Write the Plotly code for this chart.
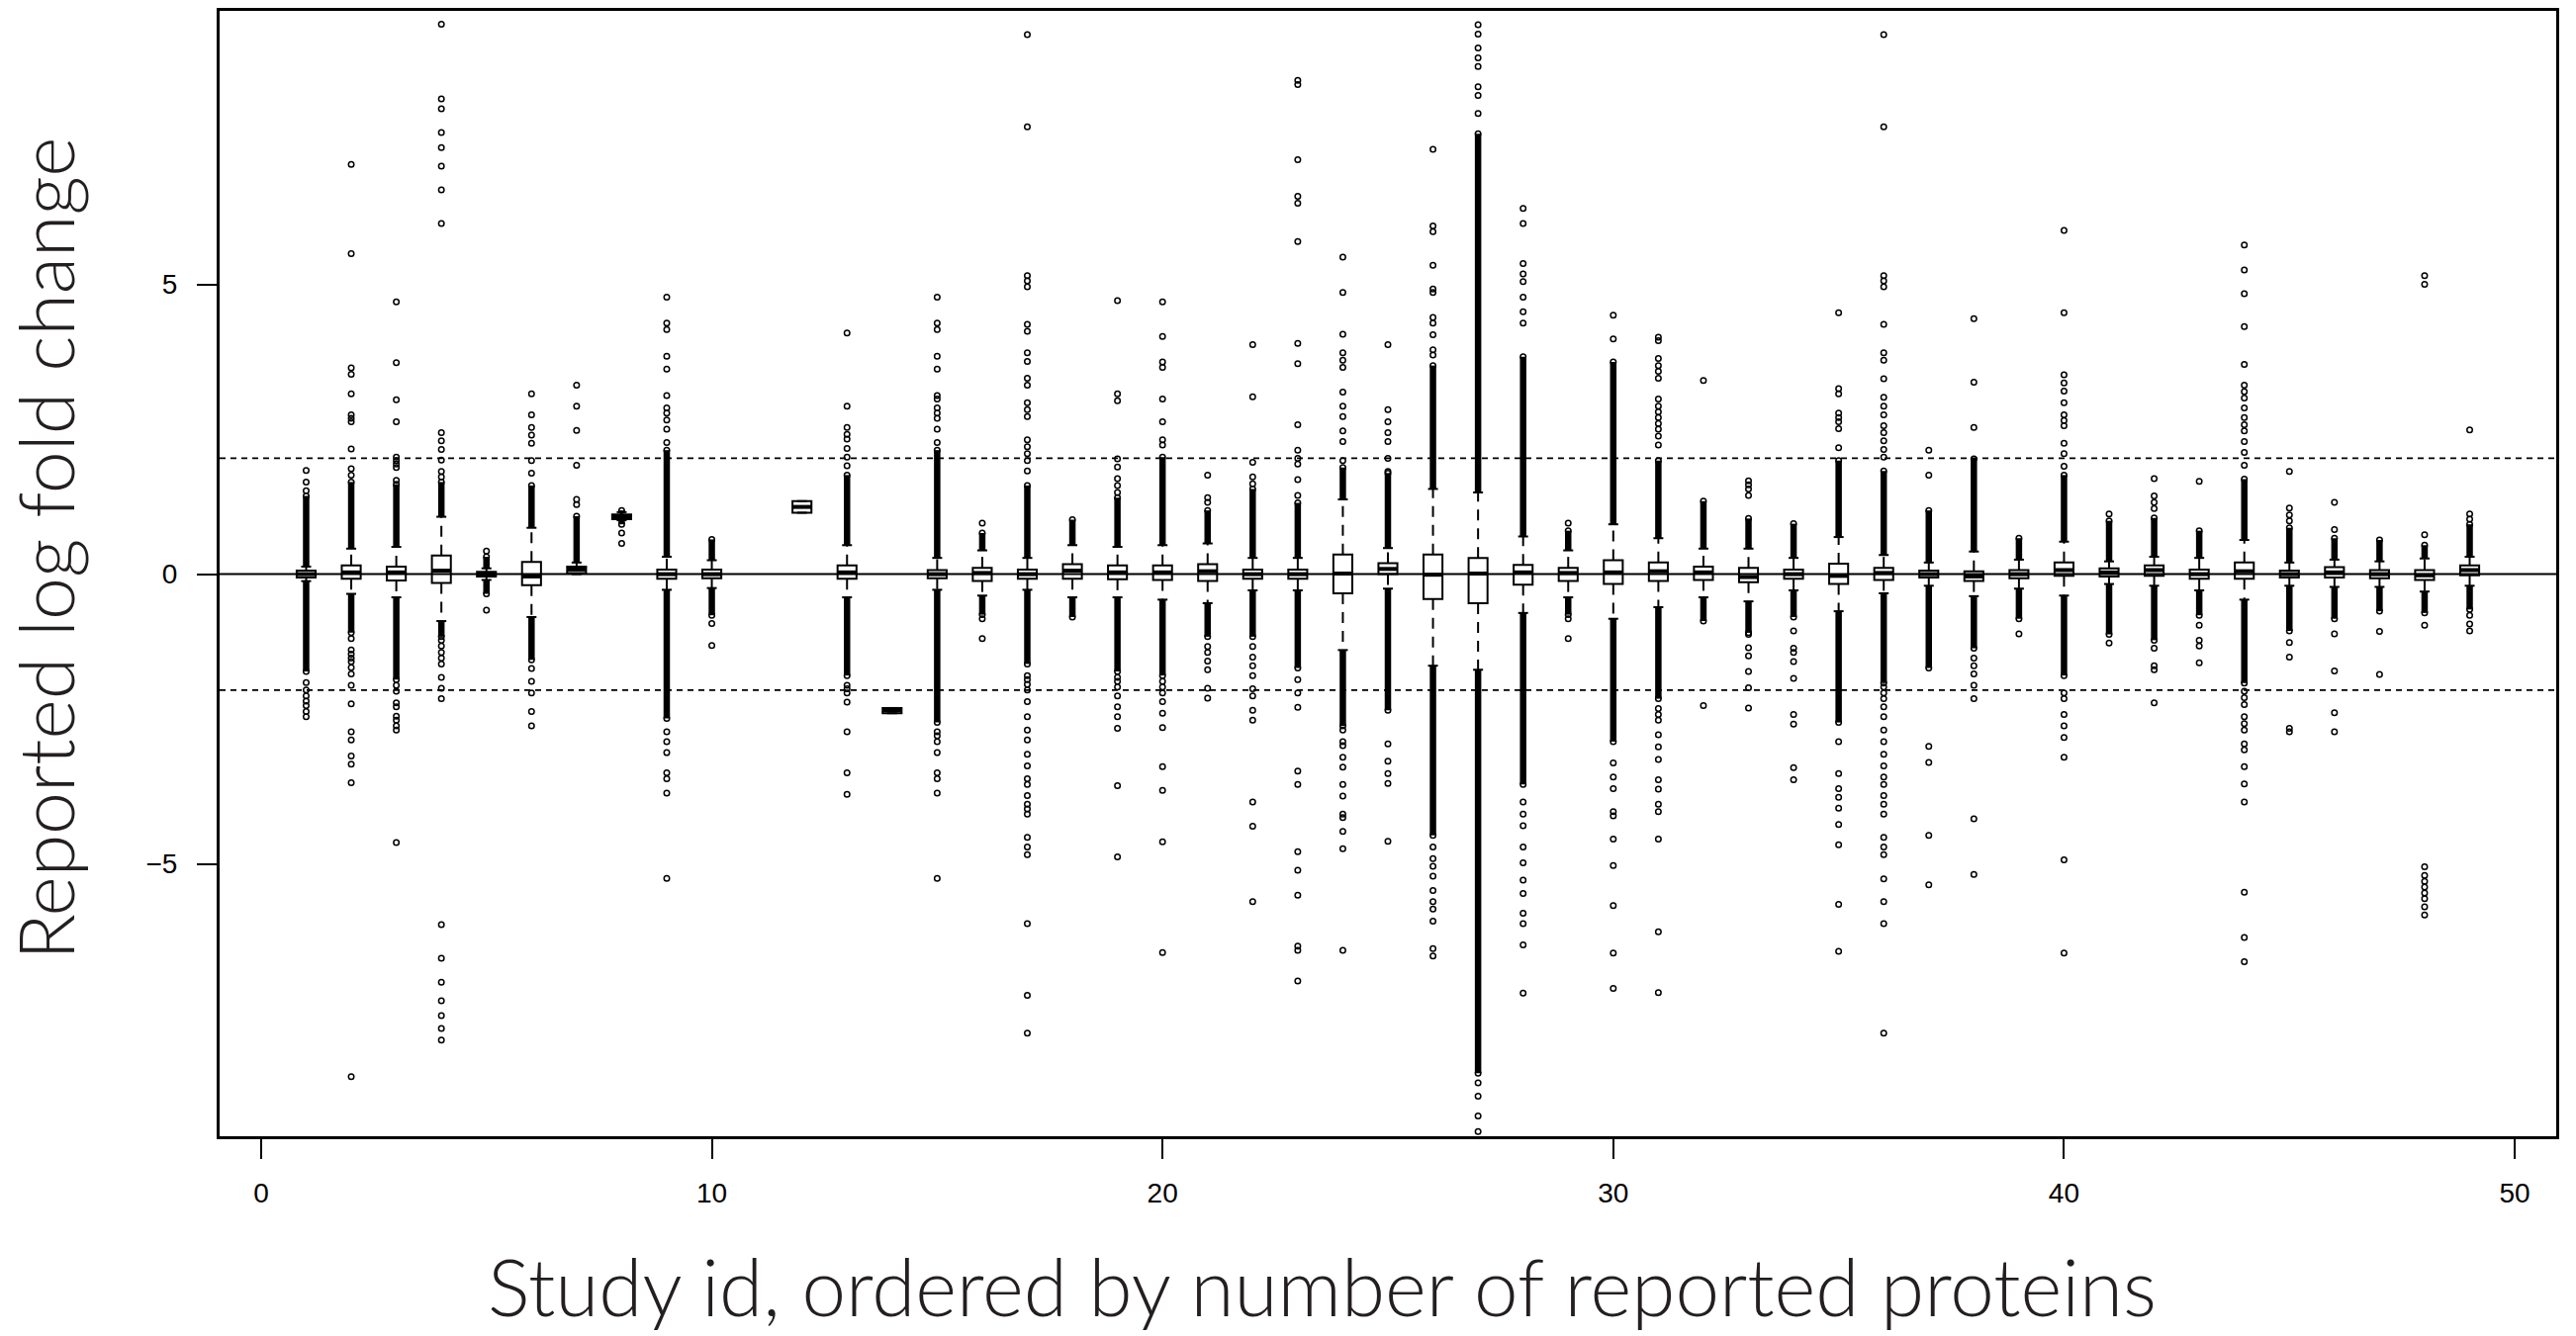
import plotly.graph_objects as go

studies = [1,2,3,4,5,6,7,8,9,10,12,13,14,15,16,17,18,19,20,21,22,23,24,25,26,27,28,29,30,
           31,32,33,34,35,36,37,38,39,40,41,42,43,44,45,46,47,48,49]

q1 = [-0.06,-0.08,-0.11,-0.15,-0.04,-0.19,0.02,0.95,-0.08,-0.07,1.06,-0.08,-2.40,-0.07,-0.12,-0.08,
      -0.08,-0.09,-0.10,-0.12,-0.08,-0.08,-0.33,0.00,-0.43,-0.50,-0.18,-0.12,-0.17,-0.12,-0.10,-0.14,
      -0.08,-0.17,-0.10,-0.06,-0.12,-0.07,-0.03,-0.04,-0.03,-0.08,-0.08,-0.06,-0.06,-0.07,-0.10,-0.02]
med = [0.0,0.03,0.03,0.06,0.0,-0.04,0.08,0.99,0.0,0.0,1.16,0.03,-2.35,0.0,0.02,0.0,
       0.06,0.03,0.03,0.05,0.0,0.0,0.01,0.09,-0.01,0.01,0.03,0.02,0.03,0.05,0.03,-0.05,
       0.0,-0.03,0.02,0.0,-0.04,0.0,0.07,0.03,0.07,0.0,0.05,0.0,0.03,0.0,-0.02,0.07]
q3 = [0.06,0.15,0.13,0.32,0.04,0.21,0.13,1.03,0.08,0.08,1.26,0.15,-2.31,0.07,0.11,0.08,
      0.17,0.15,0.15,0.17,0.08,0.08,0.34,0.19,0.34,0.28,0.16,0.11,0.24,0.20,0.13,0.11,
      0.08,0.18,0.11,0.06,0.05,0.07,0.20,0.10,0.15,0.08,0.20,0.06,0.12,0.07,0.07,0.15]
whisker_lo = [-0.12,-0.34,-0.40,-0.81,-0.10,-0.74,0.00,0.93,-0.27,-0.24,1.06,-0.40,-2.40,-0.27,-0.37,-0.27,
              -0.40,-0.40,-0.44,-0.50,-0.28,-0.28,-1.31,-0.25,-1.58,-1.65,-0.67,-0.40,-0.77,-0.57,-0.40,-0.47,
              -0.28,-0.64,-0.33,-0.20,-0.38,-0.25,-0.37,-0.17,-0.20,-0.28,-0.44,-0.20,-0.22,-0.22,-0.30,-0.20]
whisker_hi = [0.13,0.44,0.47,0.99,0.10,0.80,0.20,1.07,0.30,0.24,1.26,0.50,-2.31,0.28,0.41,0.28,
              0.50,0.47,0.50,0.53,0.28,0.28,1.29,0.45,1.47,1.41,0.65,0.41,0.86,0.62,0.44,0.44,
              0.28,0.64,0.33,0.20,0.39,0.25,0.56,0.22,0.30,0.28,0.59,0.20,0.25,0.22,0.27,0.30]
# extent of the dense (overlapping) outlier runs beyond the whiskers
dense_lo = [-1.68,-1.01,-1.82,-1.08,-0.34,-1.48,0.00,0.86,-2.49,-0.71,1.06,-1.75,-2.40,-2.56,-0.70,-1.55,
            -0.74,-1.68,-1.75,-1.08,-1.08,-1.62,-2.62,-2.35,-4.51,-8.61,-3.63,-0.70,-2.89,-2.15,-0.81,-1.01,
            -0.74,-2.56,-1.88,-1.62,-1.28,-0.77,-1.75,-1.04,-1.14,-0.71,-1.88,-0.98,-0.77,-0.64,-0.67,-0.61]
dense_hi = [1.35,1.59,1.55,1.59,0.30,1.53,1.00,1.10,2.14,0.60,1.26,1.71,-2.31,2.14,0.71,1.53,
            0.94,1.32,2.02,1.10,1.47,1.23,1.84,1.74,3.60,7.60,3.75,0.75,3.66,1.96,1.26,0.96,
            0.87,1.96,1.78,1.10,1.99,0.62,1.71,0.92,0.97,0.75,1.64,0.80,0.62,0.59,0.50,0.86]
# separate (isolated) outliers
outliers = [
    [1.44,1.59,1.79,-1.87,-2.0,-2.1,-2.19,-2.27,-2.37,-2.46],
    [7.07,5.53,3.56,3.45,3.11,2.75,2.69,2.63,2.16,1.82,1.71,-1.11,-1.31,-1.38,-1.45,-1.51,-1.61,-1.72,-1.92,-2.24,-2.72,-2.86,-3.14,-3.28,-3.6,-8.67],
    [4.7,3.65,3.01,2.63,2.02,1.96,1.9,1.84,1.62,-1.92,-2.02,-2.22,-2.29,-2.45,-2.52,-2.62,-2.69,-4.63],
    [9.49,8.2,8.03,7.62,7.36,7.04,6.63,6.05,2.44,2.3,2.15,1.97,1.77,1.68,-1.14,-1.24,-1.35,-1.45,-1.55,-1.78,-1.97,-2.15,-6.05,-6.63,-7.04,-7.36,-7.62,-7.84,-8.04],
    [0.4,-0.62],
    [3.11,2.75,2.53,2.4,2.26,1.96,1.74,-1.63,-1.85,-2.05,-2.37,-2.62],
    [1.2,1.29,1.88,2.48,2.9,3.26],
    [0.71,0.53],
    [4.78,4.33,4.22,3.76,3.54,3.08,2.87,2.78,2.66,2.5,2.27,-2.72,-2.89,-3.08,-3.43,-3.53,-3.78,-5.25],
    [-0.85,-1.23],
    [],
    [4.16,2.9,2.53,2.41,2.33,2.17,2.02,1.87,-1.92,-1.98,-2.05,-2.21,-2.72,-3.43,-3.8],
    [],
    [4.78,4.33,4.22,3.76,3.54,3.08,3.02,2.87,2.78,2.69,2.5,2.27,-2.72,-2.79,-2.89,-3.08,-3.43,-3.53,-3.78,-5.25],
    [0.88,-0.77,-1.11],
    [9.31,7.72,5.15,5.06,4.96,4.31,4.19,3.82,3.67,3.38,3.26,2.96,2.84,2.72,2.32,2.2,2.08,1.96,1.78,-1.75,-1.82,-1.9,-2.0,-2.2,-2.46,-2.69,-2.86,-3.11,-3.31,-3.53,-3.63,-3.82,-3.97,-4.05,-4.14,-4.54,-4.71,-4.84,-6.03,-7.27,-7.92],
    [],
    [4.72,3.11,2.99,1.99,1.85,1.65,1.53,1.41,-1.78,-1.85,-1.95,-2.1,-2.29,-2.46,-2.66,-3.65,-4.88],
    [4.7,4.1,3.66,3.57,3.02,2.63,2.32,2.23,-1.85,-1.95,-2.05,-2.2,-2.4,-2.65,-3.32,-3.73,-4.62,-6.53],
    [1.71,1.32,1.24,-1.25,-1.35,-1.5,-1.65,-1.97,-2.14],
    [3.96,3.06,1.93,1.68,1.56,-1.25,-1.43,-1.58,-1.75,-1.98,-2.1,-2.35,-2.52,-3.93,-4.35,-5.65],
    [8.52,8.45,7.15,6.52,6.4,5.74,3.98,3.63,2.58,2.14,2.0,1.9,1.63,1.36,-1.82,-2.05,-2.3,-3.4,-3.63,-4.79,-5.11,-5.54,-6.42,-6.49,-7.02],
    [5.47,4.86,4.14,3.82,3.69,3.57,3.14,2.9,2.72,2.47,2.29,1.96,-2.69,-2.89,-2.96,-3.16,-3.33,-3.63,-3.83,-4.14,-4.2,-4.44,-4.74,-6.49],
    [3.96,2.84,2.63,2.44,2.29,2.0,1.77,-2.93,-3.23,-3.44,-3.61,-4.61],
    [7.33,6.01,5.91,5.33,4.92,4.86,4.43,4.33,4.13,3.87,3.78,-4.71,-4.91,-5.04,-5.21,-5.46,-5.65,-5.78,-5.99,-6.46,-6.59],
    [9.48,9.32,9.08,8.91,8.76,8.41,8.26,7.95,-8.78,-9.01,-9.35,-9.62],
    [6.31,6.05,5.36,5.18,5.05,4.78,4.53,4.33,-3.93,-4.14,-4.34,-4.71,-4.98,-5.28,-5.51,-5.85,-6.03,-6.4,-7.23],
    [0.88,-0.77,-1.11],
    [4.47,4.06,-3.26,-3.5,-3.7,-4.1,-4.17,-4.57,-5.03,-5.72,-6.54,-7.15],
    [4.09,4.03,3.72,3.6,3.5,3.38,3.02,2.9,2.8,2.7,2.6,2.5,2.38,2.23,-2.32,-2.42,-2.52,-2.77,-2.98,-3.2,-3.55,-3.71,-3.97,-4.1,-4.57,-6.17,-7.22],
    [3.34,-2.27],
    [1.61,1.54,1.47,1.36,-1.04,-1.27,-1.41,-1.68,-1.96,-2.31],
    [-0.98,-1.28,-1.35,-1.51,-1.8,-2.42,-2.59,-3.34,-3.55],
    [4.51,3.2,3.11,2.78,2.7,2.63,2.51,2.18,-2.89,-3.44,-3.7,-3.85,-4.04,-4.32,-4.67,-5.7,-6.51],
    [9.31,7.72,5.15,5.06,4.96,4.31,3.82,3.69,3.37,3.05,2.9,2.75,2.56,2.44,2.3,2.15,2.02,-1.95,-2.05,-2.15,-2.29,-2.46,-2.69,-2.89,-3.11,-3.31,-3.5,-3.63,-3.82,-3.97,-4.14,-4.54,-4.71,-4.84,-5.26,-5.65,-6.03,-7.92],
    [2.14,1.71,-2.97,-3.25,-4.51,-5.36],
    [4.41,3.31,2.53,-1.45,-1.58,-1.72,-1.92,-2.15,-4.22,-5.18],
    [-1.03],
    [5.93,4.51,3.44,3.3,3.16,2.96,2.75,2.65,2.56,2.26,2.08,1.86,-2.05,-2.15,-2.42,-2.62,-2.82,-3.16,-4.93,-6.54],
    [1.04,-1.19],
    [1.65,1.35,1.24,1.13,-1.28,-1.58,-1.65,-2.22],
    [1.6,-0.88,-1.14,-1.24,-1.53],
    [5.68,5.25,4.84,4.27,3.62,3.26,3.15,3.04,2.87,2.7,2.58,2.47,2.29,2.1,1.88,-2.02,-2.13,-2.25,-2.46,-2.58,-2.69,-2.93,-3.03,-3.32,-3.62,-3.93,-5.49,-6.27,-6.69],
    [1.77,1.14,1.02,0.92,-1.18,-1.43,-2.66,-2.72],
    [1.24,0.77,-1.03,-1.67,-2.39,-2.72],
    [-0.99,-1.73],
    [5.15,5.0,0.68,-0.88,-5.05,-5.2,-5.3,-5.4,-5.5,-5.6,-5.74,-5.88],
    [2.49,1.04,0.95,-0.71,-0.86,-0.98],
]

x_ticks = [0, 10, 20, 30, 40, 50]
y_ticks = [-5, 0, 5]
ref_solid = [0]
ref_dashed = [-2, 2]

BOX_W = 0.42
STAPLE_HALF = 0.11
INK = "#000000"

wx, wy, sx, sy, dx, dy, mx, my, ox, oy = [], [], [], [], [], [], [], [], [], []
for i, k in enumerate(studies):
    # whiskers
    for a, b in ((q3[i], whisker_hi[i]), (q1[i], whisker_lo[i])):
        if a != b:
            wx += [k, k, None]; wy += [a, b, None]
    # staples
    for w in (whisker_lo[i], whisker_hi[i]):
        sx += [k - STAPLE_HALF, k + STAPLE_HALF, None]; sy += [w, w, None]
    # dense outlier runs
    for a, b in ((whisker_hi[i], dense_hi[i]), (whisker_lo[i], dense_lo[i])):
        if a != b:
            dx += [k, k, None]; dy += [a, b, None]
            ox.append(k); oy.append(b)
    # medians
    mx += [k - BOX_W / 2, k + BOX_W / 2, None]; my += [med[i], med[i], None]
    for v in outliers[i]:
        ox.append(k); oy.append(v)

fig = go.Figure()
fig.add_trace(go.Scatter(x=wx, y=wy, mode="lines",
                         line=dict(color=INK, width=2, dash="11px,8px"), hoverinfo="skip"))
fig.add_trace(go.Scatter(x=sx, y=sy, mode="lines",
                         line=dict(color=INK, width=2), hoverinfo="skip"))
fig.add_trace(go.Bar(x=studies, y=[b - a for a, b in zip(q1, q3)], base=q1, width=BOX_W,
                     marker=dict(color="white", line=dict(color=INK, width=2)), hoverinfo="skip"))
fig.add_trace(go.Scatter(x=mx, y=my, mode="lines",
                         line=dict(color=INK, width=4), hoverinfo="skip"))
fig.add_trace(go.Scatter(x=dx, y=dy, mode="lines",
                         line=dict(color=INK, width=6.5), hoverinfo="skip"))
fig.add_trace(go.Scatter(x=ox, y=oy, mode="markers",
                         marker=dict(symbol="circle-open", size=5.5, color=INK,
                                     line=dict(width=1.5, color=INK)), hoverinfo="skip"))

for v in ref_solid:
    fig.add_shape(type="line", xref="paper", x0=0, x1=1, yref="y", y0=v, y1=v,
                  line=dict(color=INK, width=2))
for v in ref_dashed:
    fig.add_shape(type="line", xref="paper", x0=0, x1=1, yref="y", y0=v, y1=v,
                  line=dict(color=INK, width=1.8, dash="6px,5px"))

fig.add_annotation(text="Study id, ordered by number of reported proteins",
                   xref="paper", yref="paper", x=0.472, y=-0.133, xanchor="center", yanchor="middle",
                   showarrow=False, font=dict(family="Lato", size=80, color="#231f20", weight=300))
fig.add_annotation(text="Reported log fold change",
                   xref="paper", yref="paper", x=-0.075, y=0.522, xanchor="center", yanchor="middle",
                   textangle=-90, showarrow=False,
                   font=dict(family="Lato", size=77, color="#231f20", weight=300))

fig.update_layout(
    width=2604, height=1351,
    margin=dict(l=222, r=20, t=8, b=202),
    paper_bgcolor="white", plot_bgcolor="white",
    showlegend=False, barmode="overlay",
    font=dict(family="Liberation Sans", size=28, color=INK),
)
fig.update_xaxes(range=[-0.92, 50.92], tickvals=x_ticks, ticks="outside", ticklen=20, tickwidth=2,
                 tickcolor=INK, showline=True, linecolor=INK, linewidth=3, mirror=True,
                 showgrid=False, zeroline=False, tickfont=dict(size=28), ticklabelstandoff=10)
fig.update_yaxes(range=[-9.7, 9.72], tickvals=y_ticks, ticks="outside", ticklen=20, tickwidth=2,
                 tickcolor=INK, showline=True, linecolor=INK, linewidth=3, mirror=True,
                 showgrid=False, zeroline=False, tickfont=dict(size=28), tickangle=0,
                 ticklabelstandoff=14)

fig.write_html("out.html")
